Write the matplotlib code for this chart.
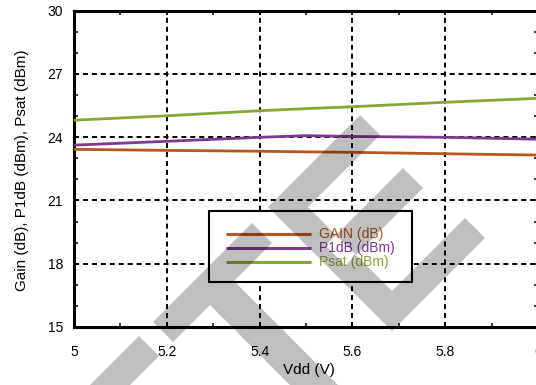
import numpy as np
import matplotlib
matplotlib.use('Agg')
import matplotlib.pyplot as plt
from matplotlib.path import Path
from matplotlib.patches import PathPatch, Rectangle
from matplotlib.ticker import MultipleLocator

plt.rcParams['font.family'] = ['Liberation Sans', 'DejaVu Sans']

# Data
vdd = [5.0, 5.2, 5.4, 5.5, 5.6, 5.8, 6.0]
gain = [23.42, 23.37, 23.33, 23.30, 23.28, 23.21, 23.15]
p1db = [23.62, 23.80, 23.99, 24.07, 24.03, 23.99, 23.90]
psat = [24.80, 25.01, 25.25, 25.35, 25.44, 25.65, 25.84]

series_names = ['GAIN (dB)', 'P1dB (dBm)', 'Psat (dBm)']
series_colors = ['#b5571f', '#7b3a8c', '#84a836']

x_ticks = [5, 5.2, 5.4, 5.6, 5.8, 6]
x_ticklabels = ['5', '5.2', '5.4', '5.6', '5.8', '6']
y_ticks = [15, 18, 21, 24, 27, 30]

W, H = 536, 385
fig = plt.figure(figsize=(W / 100, H / 100), dpi=100)
ax = fig.add_axes([74 / W, 1 - 327 / H, 464 / W, 316.5 / H])

for ys, name, col in zip([gain, p1db, psat], series_names, series_colors):
    ax.plot(vdd, ys, color=col, lw=2.0, solid_capstyle='butt', zorder=3)

ax.set_xlim(5, 6)
ax.set_ylim(15, 30)
ax.set_xticks(x_ticks)
ax.set_xticklabels(x_ticklabels)
ax.set_yticks(y_ticks)
ax.xaxis.set_minor_locator(MultipleLocator(0.1))
ax.yaxis.set_minor_locator(MultipleLocator(1))
ax.tick_params(which='both', direction='in', top=True, right=True, width=1.1)
ax.tick_params(which='major', length=3, labelsize=10)
ax.tick_params(axis='x', which='major', pad=13)
ax.tick_params(axis='y', which='major', pad=8)
ax.tick_params(which='minor', length=3)
for s in ax.spines.values():
    s.set_linewidth(2.2)

ax.grid(True, which='major', color='black', lw=1.4, ls=(0, (2.6, 2.0)))

ax.set_xlabel('Vdd (V)', fontsize=11)
ax.set_ylabel('Gain (dB), P1dB (dBm), Psat (dBm)', fontsize=11)
ax.xaxis.set_label_coords(0.507, -0.115)
ax.yaxis.set_label_coords(-0.097, 0.495)

# legend box drawn by hand to match the reference placement
ax.add_patch(Rectangle((0.290, 0.143), 0.439, 0.225, transform=ax.transAxes,
                       facecolor='white', edgecolor='black', lw=1.5, zorder=5))
rows = [0.2938, 0.2487, 0.2044]
for yr, name, col in zip(rows, series_names, series_colors):
    ax.plot([0.3276, 0.5108], [yr, yr], transform=ax.transAxes, color=col,
            lw=2.2, solid_capstyle='butt', zorder=6)
    ax.text(0.528, yr, name, transform=ax.transAxes, color=col, fontsize=10,
            va='center', ha='left', zorder=6)

# grey watermark bands (pixel coords, y from top)
shapes = [
    [(360, 115), (268, 207), (392, 331), (485, 238), (465, 218), (392, 291), (308, 207), (380, 135)],
    [(403, 168), (423, 188), (345.5, 265.5), (325.5, 245.5)],
    [(252, 223), (272, 243), (173, 342), (153, 322)],
    [(224, 271), (356.5, 403.5), (332.5, 427.5), (200, 295)],
    [(139, 336), (159, 356), (57.5, 457.5), (37.5, 437.5)],
]
verts, codes = [], []
for poly in shapes:
    pts = [(x / W, 1 - y / H) for x, y in poly]
    verts += pts + [pts[0]]
    codes += [Path.MOVETO] + [Path.LINETO] * (len(pts) - 1) + [Path.CLOSEPOLY]
wm = PathPatch(Path(verts, codes), transform=fig.transFigure, facecolor='black',
               edgecolor='none', alpha=0.25, zorder=10)
fig.add_artist(wm)

fig.savefig('out.png', dpi=100)
